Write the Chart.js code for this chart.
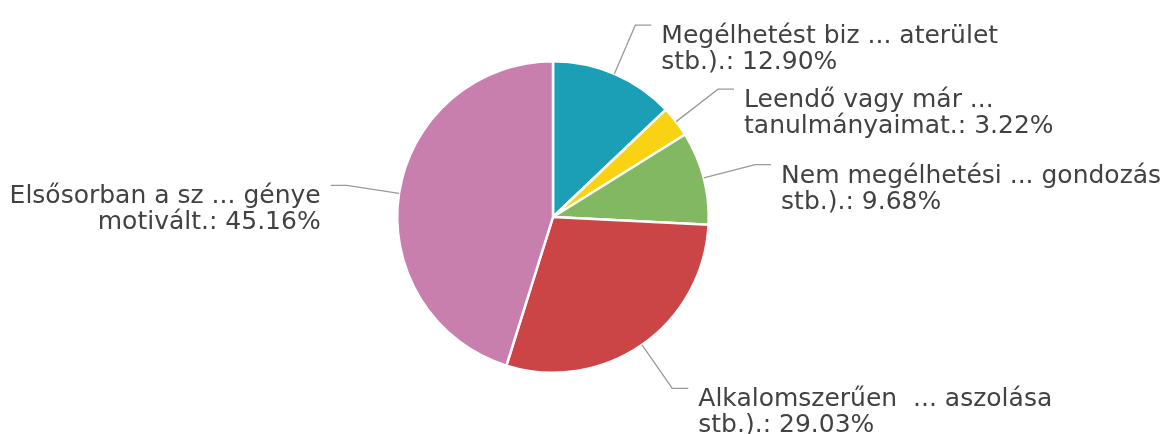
<!DOCTYPE html>
<html>
<head>
<meta charset="utf-8">
<script src="https://cdn.jsdelivr.net/npm/chart.js@4/dist/chart.umd.min.js"></script>
<style>
  html, body { margin: 0; padding: 0; background: #fff; }
  #wrap { width: 1162px; height: 434px; }
</style>
</head>
<body>
<div id="wrap"><canvas id="myChart" width="1162" height="434"></canvas></div>
<script>
// categories (shortened the same way the original labels are), two lines each
const categories = [
    ["Megélhetést biz ... aterület", "stb.)."],
    ["Leendő vagy már ...", "tanulmányaimat."],
    ["Nem megélhetési ... gondozás", "stb.)."],
    ["Alkalomszerűen  ... aszolása", "stb.)."],
    ["Elsősorban a sz ... génye", "motivált."]
];
const shares = [12.90, 3.22, 9.68, 29.03, 45.16];
const sliceColors = ["#1a9fb7", "#f8d213", "#82b862", "#cb4547", "#c87fae"];

const labelFont = '25px "DejaVu Sans", Verdana, sans-serif';
const labelColor = "#424242";
const leaderColor = "#9a9a9a";

// draws the outside labels with their leader lines
const outsideLabels = {
    id: "outsideLabels",
    afterDatasetsDraw(chart) {
        const ctx = chart.ctx;
        const arcs = chart.getDatasetMeta(0).data;
        ctx.save();
        ctx.font = labelFont;
        ctx.fillStyle = labelColor;
        ctx.strokeStyle = leaderColor;
        ctx.lineWidth = 1.3;
        arcs.forEach(function(arc, i) {
            const p = arc.getProps(["x", "y", "startAngle", "endAngle", "outerRadius"], true);
            const mid = (p.startAngle + p.endAngle) / 2;
            const cos = Math.cos(mid), sin = Math.sin(mid);
            const x0 = p.x + cos * p.outerRadius;
            const y0 = p.y + sin * p.outerRadius;
            const x1 = p.x + cos * (p.outerRadius + 53);
            const y1 = p.y + sin * (p.outerRadius + 53);
            const right = cos >= 0;
            const x2 = x1 + (right ? 16 : -16);
            ctx.beginPath();
            ctx.moveTo(x0, y0);
            ctx.lineTo(x1, y1);
            ctx.lineTo(x2, y1);
            ctx.stroke();

            const lines = [categories[i][0], categories[i][1] + ": " + shares[i].toFixed(2) + "%"];
            ctx.textAlign = right ? "left" : "right";
            ctx.textBaseline = "alphabetic";
            const tx = x2 + (right ? 10 : -10);
            lines.forEach(function(s, k) {
                ctx.fillText(s, tx, y1 + 18 + k * 26);
            });
        });
        ctx.restore();
    }
};

const chart = new Chart(document.getElementById("myChart"), {
    type: "pie",
    data: {
        labels: categories.map(c => c.join(" ")),
        datasets: [{
            data: shares,
            backgroundColor: sliceColors,
            borderColor: "#ffffff",
            borderWidth: 2.5
        }]
    },
    options: {
        responsive: false,
        animation: false,
        layout: { padding: { left: 200, right: 256, top: 60, bottom: 60 } },
        plugins: {
            legend: { display: false },
            tooltip: { enabled: false }
        }
    },
    plugins: [outsideLabels]
});
</script>
</body>
</html>
